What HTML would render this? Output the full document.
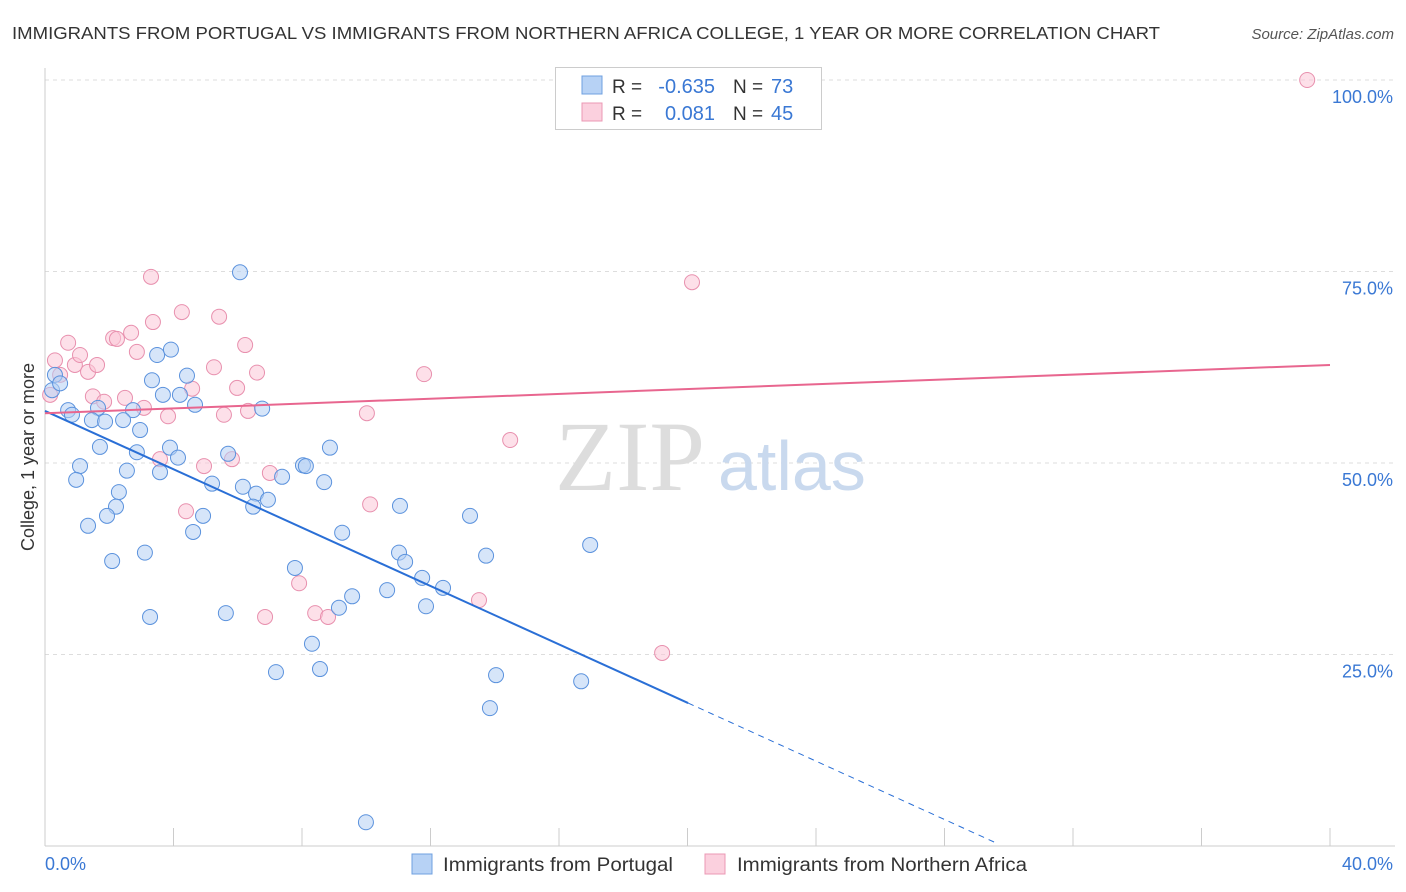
<!DOCTYPE html>
<html><head><meta charset="utf-8"><style>
body{margin:0;background:#fff;font-family:"Liberation Sans",sans-serif;}
#wrap{position:relative;width:1406px;height:892px;overflow:hidden;}
</style></head><body>
<div id="wrap">
<svg id="chart" width="1406" height="892" xmlns="http://www.w3.org/2000/svg">
<text x="12" y="39" font-size="17.5" fill="#333" textLength="1148" lengthAdjust="spacingAndGlyphs">IMMIGRANTS FROM PORTUGAL VS IMMIGRANTS FROM NORTHERN AFRICA COLLEGE, 1 YEAR OR MORE CORRELATION CHART</text>
<text x="1394" y="39" font-size="15" fill="#555" font-style="italic" text-anchor="end">Source: ZipAtlas.com</text>
<g id="grid"></g>
<text x="705" y="490" font-size="100" fill="#ddd" font-family="Liberation Serif,serif" text-anchor="end">ZIP</text>
<text x="718" y="490" font-size="70" fill="#c9d9ee">atlas</text>
<g id="marks"></g>
<text transform="translate(34,457) rotate(-90)" font-size="18" fill="#333" text-anchor="middle">College, 1 year or more</text>
<text x="45" y="870" font-size="18" fill="#3a78d4">0.0%</text>
<text x="1393" y="870" font-size="18" fill="#3a78d4" text-anchor="end">40.0%</text>
<g>
<rect x="555.5" y="67.5" width="266" height="62" fill="#fff" stroke="#ccc"/>
<rect x="582" y="76" width="20" height="18" fill="#b7d2f5" stroke="#6fa0e0"/>
<rect x="582" y="103" width="20" height="18" fill="#fbd0de" stroke="#eb98b4"/>
<text x="612" y="93" font-size="19" fill="#333">R =</text>
<text x="715" y="93" font-size="20" fill="#3a78d4" text-anchor="end">-0.635</text>
<text x="733" y="93" font-size="19" fill="#333">N =</text>
<text x="771" y="93" font-size="20" fill="#3a78d4">73</text>
<text x="612" y="120" font-size="19" fill="#333">R =</text>
<text x="715" y="120" font-size="20" fill="#3a78d4" text-anchor="end">0.081</text>
<text x="733" y="120" font-size="19" fill="#333">N =</text>
<text x="771" y="120" font-size="20" fill="#3a78d4">45</text>
</g>
<g>
<rect x="412" y="854" width="20" height="20" fill="#b7d2f5" stroke="#6fa0e0"/>
<text x="443" y="871" font-size="19" fill="#333" textLength="230" lengthAdjust="spacingAndGlyphs">Immigrants from Portugal</text>
<rect x="705" y="854" width="20" height="20" fill="#fbd0de" stroke="#eb98b4"/>
<text x="737" y="871" font-size="19" fill="#333" textLength="290" lengthAdjust="spacingAndGlyphs">Immigrants from Northern Africa</text>
</g>
</svg>
</div>
<script>
const yTicks=[25,50,75,100];
const yTickLabels=["25.0%","50.0%","75.0%","100.0%"];
const xTicks=[0,4,8,12,16,20,24,28,32,36,40];
const blueX=[0.31,0.22,0.47,0.72,0.84,1.65,1.46,1.87,2.74,2.43,2.96,3.33,3.49,3.92,3.67,4.20,4.42,4.67,6.76,6.07,1.71,1.09,0.97,2.55,2.86,3.58,3.89,4.14,2.30,2.21,1.93,1.34,2.09,3.11,3.27,4.61,4.92,5.20,5.70,6.16,6.57,6.48,6.94,7.38,5.63,8.03,8.12,8.69,8.87,9.25,7.78,7.19,8.31,8.56,9.15,9.56,10.65,11.02,11.21,11.74,11.86,12.39,11.05,13.23,13.73,14.04,13.85,16.69,16.97,9.99];
const blueY=[61.5,59.5,60.4,56.9,56.3,57.2,55.6,55.4,56.9,55.6,54.3,60.8,64.1,64.8,58.9,58.9,61.4,57.6,57.1,74.9,52.1,49.6,47.8,49.0,51.4,48.8,52.0,50.7,46.2,44.3,43.1,41.8,37.2,38.3,29.9,41.0,43.1,47.3,51.2,46.9,46.0,44.3,45.2,48.2,30.4,49.7,49.6,47.5,52.0,40.9,36.3,22.7,26.4,23.1,31.1,32.6,33.4,38.3,37.1,35.0,31.3,33.7,44.4,43.1,37.9,22.3,18.0,21.5,39.3,3.1];
const pinkX=[0.31,0.47,0.72,0.93,1.09,1.34,1.62,1.49,1.84,2.12,2.24,2.49,2.68,2.86,3.08,3.30,3.36,3.83,3.58,4.26,4.39,4.58,4.95,5.26,5.42,5.57,5.82,5.98,6.23,6.32,6.60,6.85,7.00,7.91,8.41,8.81,10.02,10.12,11.80,14.48,13.51,19.21,20.14,39.29,0.16];
const pinkY=[63.4,61.5,65.7,62.8,64.1,61.9,62.8,58.7,58.0,66.3,66.2,58.5,67.0,64.5,57.2,74.3,68.4,56.1,50.5,69.7,43.7,59.7,49.6,62.5,69.1,56.3,50.5,59.8,65.4,56.8,61.8,29.9,48.7,34.3,30.4,29.9,56.5,44.6,61.6,53.0,32.1,25.2,73.6,100.0,58.9];
const blueTrend=[56.8,-1.905];
const pinkTrend=[56.5,0.1575];
const sx=v=>45+v*(1285/40);
const sy=v=>846-v*7.66;
const NS="http://www.w3.org/2000/svg";
function mk(tag,attrs,parent){const e=document.createElementNS(NS,tag);for(const k in attrs)e.setAttribute(k,attrs[k]);parent.appendChild(e);return e;}
const grid=document.getElementById('grid'),marks=document.getElementById('marks');
yTicks.forEach((t,i)=>{
 const l=mk('line',{x1:45,x2:1395,y1:sy(t),y2:sy(t),stroke:'#ddd','stroke-dasharray':'4,4'},grid);
 
 
 const tx=mk('text',{x:1393,y:sy(t)+23,'font-size':18,fill:'#3a78d4','text-anchor':'end'},grid);
 tx.textContent=yTickLabels[i];
 
 
});
const ax=mk('line',{x1:45,x2:45,y1:68,y2:846,stroke:'#ccc'},grid);


const bx=mk('line',{x1:45,x2:1395,y1:846,y2:846,stroke:'#ccc'},grid);


xTicks.forEach(t=>{
 const l=mk('line',{x1:sx(t),x2:sx(t),y1:828,y2:846,stroke:'#ccc'},grid);
 
 
});
function dots(X,Y,fill,stroke,name){
 X.forEach((x,i)=>{
  const c=mk('circle',{cx:sx(x),cy:sy(Y[i]),r:7.5,fill:fill,'fill-opacity':0.55,stroke:stroke,'stroke-width':1},marks);
  
  
 });
}
dots(pinkX,pinkY,'#fbc6d7','#e890ae','pink-point');
dots(blueX,blueY,'#b4d0f4','#5b92dd','blue-point');
const bEnd=20.02,bDash=29.6;
const bl=mk('line',{x1:sx(0),y1:sy(blueTrend[0]),x2:sx(bEnd),y2:sy(blueTrend[0]+blueTrend[1]*bEnd),stroke:'#2a6fd6','stroke-width':2},marks);


const bd=mk('line',{x1:sx(bEnd),y1:sy(blueTrend[0]+blueTrend[1]*bEnd),x2:sx(bDash),y2:sy(blueTrend[0]+blueTrend[1]*bDash),stroke:'#2a6fd6','stroke-width':1,'stroke-dasharray':'6,5'},marks);


const pl=mk('line',{x1:sx(0),y1:sy(pinkTrend[0]),x2:sx(40),y2:sy(pinkTrend[0]+pinkTrend[1]*40),stroke:'#e8668f','stroke-width':2},marks);


</script>
</body></html>
